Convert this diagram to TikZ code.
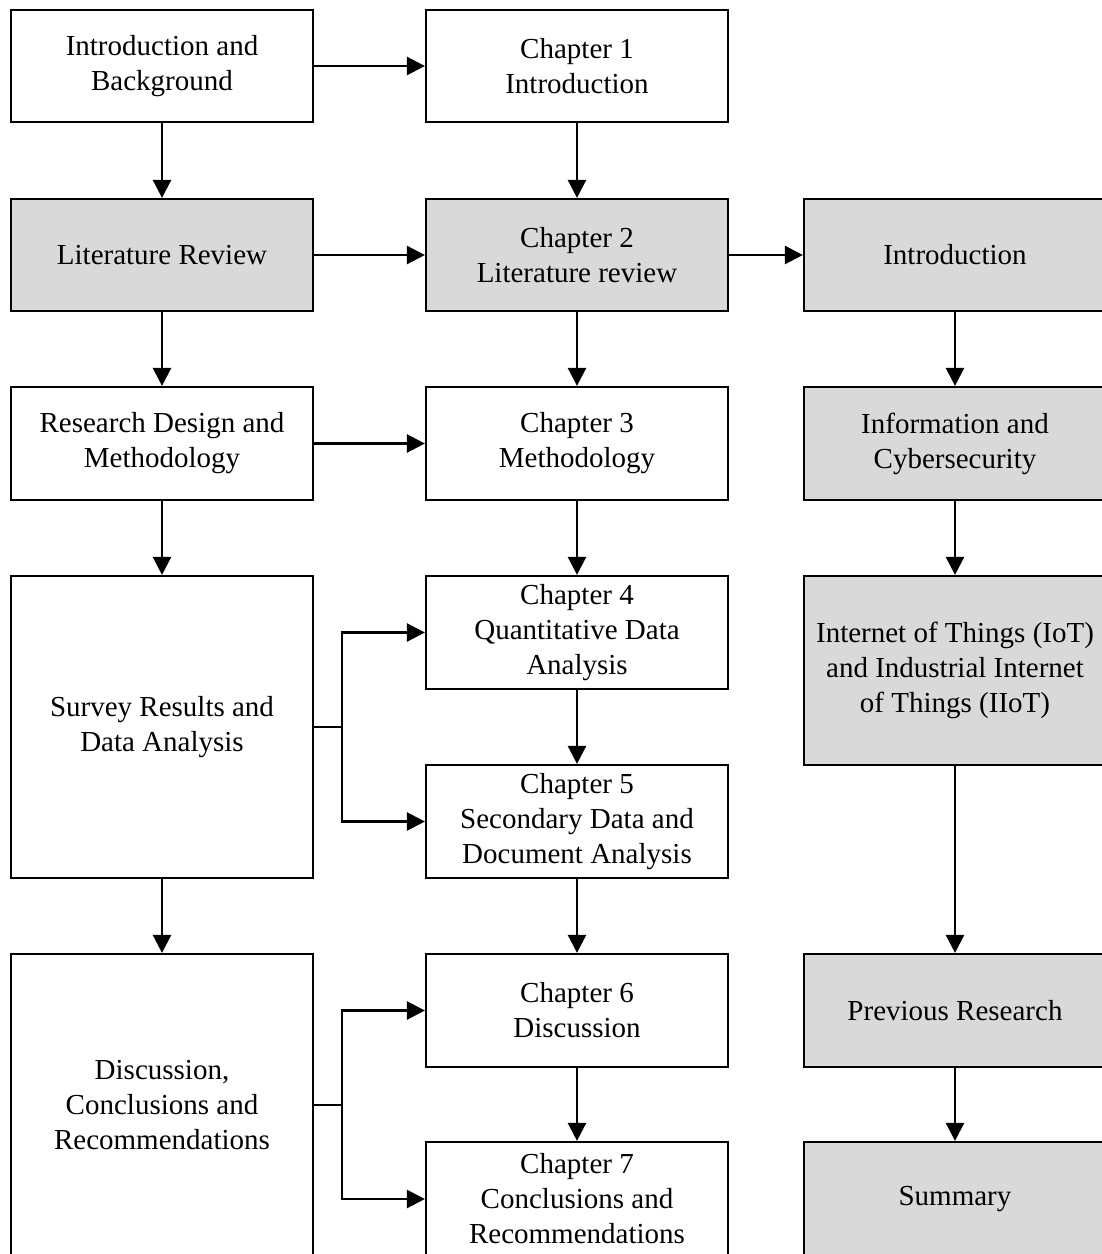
\documentclass[tikz,border=0pt]{standalone}
\usepackage{fontspec}
\setmainfont{Liberation Serif}
\usetikzlibrary{arrows.meta}
\definecolor{boxgray}{RGB}{217,217,217}
\begin{document}
\begin{tikzpicture}[x=1pt,y=-1pt,
  box/.style={draw=black, line width=2.2pt, minimum width=302pt, inner sep=0pt, align=center, font=\fontsize{29}{35}\selectfont, fill=white},
  graybox/.style={box, fill=boxgray},
  conn/.style={line width=2.5pt, -{Triangle[length=18pt,width=18pt]}},
  plainline/.style={line width=2.5pt}]
\useasboundingbox (0,0) rectangle (1102,1254);
\clip (0,0) rectangle (1102,1254);
% left column
\node[box, minimum height=112pt] (L1) at (162,66) {Introduction and\\Background};
\node[graybox, minimum height=112pt] (L2) at (162,255) {Literature Review};
\node[box, minimum height=113pt] (L3) at (162,443.5) {Research Design and\\Methodology};
\node[box, minimum height=302pt] (L4) at (162,727) {Survey Results and\\Data Analysis};
\node[box, minimum height=302pt] (L5) at (162,1105) {Discussion,\\Conclusions and\\Recommendations};
% middle column
\node[box, minimum height=112pt] (M1) at (577,66) {Chapter 1\\Introduction};
\node[graybox, minimum height=112pt] (M2) at (577,255) {Chapter 2\\Literature review};
\node[box, minimum height=113pt] (M3) at (577,443.5) {Chapter 3\\Methodology};
\node[box, minimum height=113pt] (M4) at (577,632.5) {Chapter 4\\Quantitative Data\\Analysis};
\node[box, minimum height=113pt] (M5) at (577,821.5) {Chapter 5\\Secondary Data and\\Document Analysis};
\node[box, minimum height=113pt] (M6) at (577,1010.5) {Chapter 6\\Discussion};
\node[box, minimum height=114pt] (M7) at (577,1199) {Chapter 7\\Conclusions and\\Recommendations};
% right column
\node[graybox, minimum height=112pt] (R1) at (955,255) {Introduction};
\node[graybox, minimum height=113pt] (R2) at (955,443.5) {Information and\\Cybersecurity};
\node[graybox, minimum height=189pt] (R3) at (955,670.5) {Internet of Things (IoT)\\and Industrial Internet\\of Things (IIoT)};
\node[graybox, minimum height=113pt] (R4) at (955,1010.5) {Previous Research};
\node[graybox, minimum height=114pt] (R5) at (955,1199) {Summary};
% horizontal arrows
\draw[conn] (L1.east) -- (M1.west);
\draw[conn] (L2.east) -- (M2.west);
\draw[conn] (L3.east) -- (M3.west);
\draw[conn] (M2.east) -- (R1.west);
% vertical arrows
\draw[conn] (L1.south) -- (L2.north);
\draw[conn] (L2.south) -- (L3.north);
\draw[conn] (L3.south) -- (L4.north);
\draw[conn] (L4.south) -- (L5.north);
\draw[conn] (M1.south) -- (M2.north);
\draw[conn] (M2.south) -- (M3.north);
\draw[conn] (M3.south) -- (M4.north);
\draw[conn] (M4.south) -- (M5.north);
\draw[conn] (M5.south) -- (M6.north);
\draw[conn] (M6.south) -- (M7.north);
\draw[conn] (R1.south) -- (R2.north);
\draw[conn] (R2.south) -- (R3.north);
\draw[conn] (R3.south) -- (R4.north);
\draw[conn] (R4.south) -- (R5.north);
% branches
\draw[plainline] (L4.east) -- ++(28,0) coordinate (b1);
\draw[conn] (b1) |- (M4.west);
\draw[conn] (b1) |- (M5.west);
\draw[plainline] (L5.east) -- ++(28,0) coordinate (b2);
\draw[conn] (b2) |- (M6.west);
\draw[conn] (b2) |- (M7.west);
\end{tikzpicture}
\end{document}
